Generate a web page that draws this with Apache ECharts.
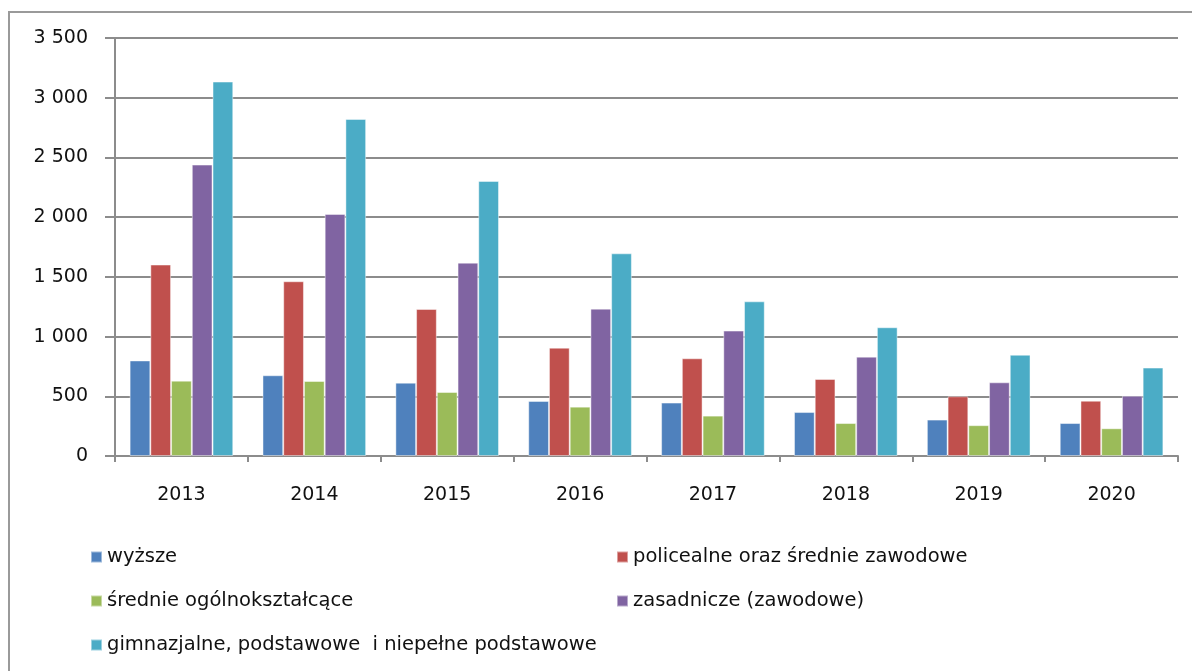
<!DOCTYPE html>
<html>
<head>
<meta charset="utf-8">
<script src="https://cdn.jsdelivr.net/npm/echarts@6/dist/echarts.min.js"></script>
<style>
html,body{margin:0;padding:0;background:#fff;}
#chart{width:1192px;height:671px;}
</style>
</head>
<body>
<div id="chart"></div>
<script>
const categories = ['2013','2014','2015','2016','2017','2018','2019','2020'];
const seriesNames = [
  'wyższe',
  'policealne oraz średnie zawodowe',
  'średnie ogólnokształcące',
  'zasadnicze (zawodowe)',
  'gimnazjalne, podstawowe  i niepełne podstawowe'
];
const wyzsze      = [800, 676, 614, 461, 447, 368, 305, 276];
const policealne  = [1603, 1463, 1231, 907, 818, 645, 500, 463];
const srednieOgol = [631, 628, 536, 413, 338, 276, 258, 232];
const zasadnicze  = [2440, 2027, 1619, 1234, 1050, 832, 617, 505];
const gimnazjalne = [3135, 2822, 2303, 1697, 1295, 1078, 848, 740];
const yTicks = [0, 500, 1000, 1500, 2000, 2500, 3000, 3500];

const colors = ['#4F81BD', '#C0504D', '#9BBB59', '#8064A2', '#4BACC6'];
const seriesData = [wyzsze, policealne, srednieOgol, zasadnicze, gimnazjalne];
const FONT = 'DejaVu Sans';
const TXT = '#111';

const chart = echarts.init(document.getElementById('chart'), null, {renderer: 'canvas'});

const legendPos = [
  {left: 90, top: 547},
  {left: 616, top: 547},
  {left: 90, top: 591},
  {left: 616, top: 591},
  {left: 90, top: 635}
];

const option = {
  animation: false,
  backgroundColor: '#fff',
  color: colors,
  graphic: [{
    type: 'rect',
    shape: {x: 9, y: 12, width: 1200, height: 700},
    style: {fill: 'none', stroke: '#9a9a9a', lineWidth: 2},
    silent: true,
    z: -1
  }],
  grid: {left: 115, top: 38, right: 14, bottom: 215, containLabel: false},
  legend: seriesNames.map((n, i) => ({
    data: [n],
    left: legendPos[i].left,
    top: legendPos[i].top,
    padding: 0,
    icon: 'rect',
    itemWidth: 11,
    itemHeight: 11,
    itemGap: 6,
    selectedMode: false,
    textStyle: {fontFamily: FONT, fontSize: 19.5, color: TXT}
  })),
  xAxis: {
    type: 'category',
    data: categories,
    axisLine: {lineStyle: {color: '#8c8c8c', width: 2}},
    axisTick: {show: true, length: 6, lineStyle: {color: '#8c8c8c', width: 2}, alignWithLabel: false},
    axisLabel: {fontFamily: FONT, fontSize: 19, color: TXT, margin: 30}
  },
  yAxis: {
    type: 'value',
    min: 0,
    max: 3500,
    interval: 500,
    axisLine: {show: true, lineStyle: {color: '#8c8c8c', width: 2}},
    axisTick: {show: true, inside: false, length: 10, lineStyle: {color: '#8c8c8c', width: 2}},
    splitLine: {show: true, lineStyle: {color: '#8c8c8c', width: 2}},
    axisLabel: {
      fontFamily: FONT, fontSize: 19, color: TXT, margin: 27,
      formatter: function (v) {
        if (yTicks.indexOf(v) < 0) return '';
        return v >= 1000 ? Math.floor(v / 1000) + ' ' + String(v % 1000).padStart(3, '0') : String(v);
      }
    }
  },
  series: seriesNames.map((n, i) => ({
    name: n,
    type: 'bar',
    data: seriesData[i],
    barGap: '0%',
    barCategoryGap: '22%',
    itemStyle: {color: colors[i], borderColor: 'rgba(255,255,255,0.45)', borderWidth: 1}
  }))
};
chart.setOption(option);
</script>
</body>
</html>
